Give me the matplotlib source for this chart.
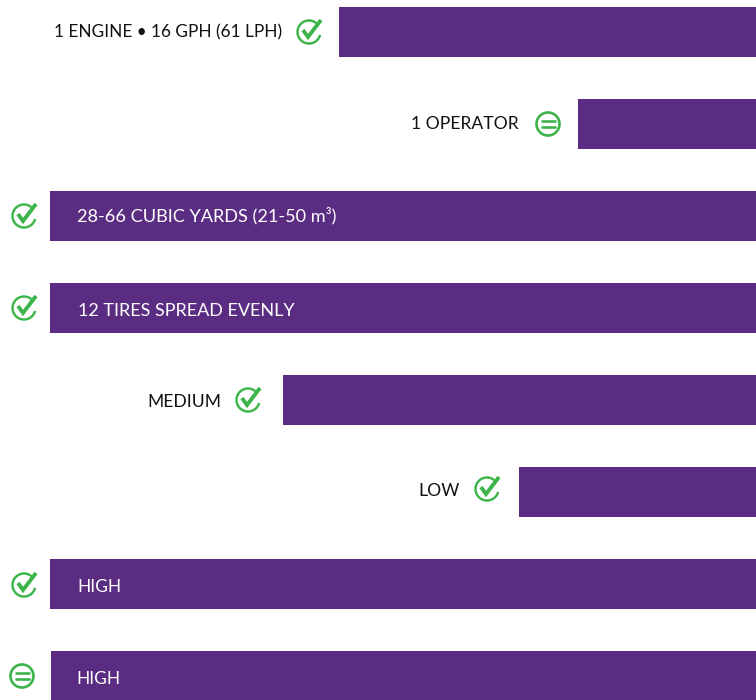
"""Purple comparison bars, right aligned, with a status icon next to each label."""
import matplotlib
matplotlib.use('Agg')
import matplotlib.pyplot as plt
from matplotlib.patches import Arc, Circle
from matplotlib.transforms import Affine2D

labels = ['1 ENGINE • 16 GPH (61 LPH)', '1 OPERATOR', '28-66 CUBIC YARDS (21-50 m³)',
          '12 TIRES SPREAD EVENLY', 'MEDIUM', 'LOW', 'HIGH', 'HIGH']
values = [417, 178, 706, 706, 473, 237, 706, 705]
status = ['check', 'equal', 'check', 'check', 'check', 'check', 'check', 'equal']

PURPLE = '#5b2d82'
GREEN = '#3cb44a'
W, H = 756, 700
ROW = 92
TOP = 32

plt.rcParams['font.family'] = ['Lato', 'DejaVu Sans']


def draw_icon(fig, kind, cx, cy):
    """Draw a status icon, centre given in image pixels (y down)."""
    trans = Affine2D().translate(cx, H - cy)
    lw = 2.4 * 72 / fig.dpi
    if kind == 'check':
        fig.add_artist(Arc((0, 0), 23, 23, theta1=50, theta2=345, color=GREEN, lw=lw, transform=trans))
        fig.add_artist(plt.Line2D([-6, -1, 12], [2, -5, 12], color=GREEN, lw=lw * 1.6,
                                  solid_joinstyle='miter', solid_capstyle='butt', transform=trans))
    else:
        fig.add_artist(Circle((0, 0), 11.5, fill=False, edgecolor=GREEN, lw=lw * 1.1, transform=trans))
        for dy in (-3, 3):
            fig.add_artist(plt.Line2D([-6.5, 6.5], [dy, dy], color=GREEN, lw=lw * 1.1,
                                      solid_capstyle='round', transform=trans))


def main():
    fig = plt.figure(figsize=(W / 100, H / 100), dpi=100)
    ax = fig.add_axes([0, 0, 1, 1])
    rows = list(range(len(values)))
    ax.barh(rows, values, height=50 / ROW, color=PURPLE)
    ax.set_xlim(W, 0)
    ax.set_ylim((H - TOP) / ROW, -TOP / ROW)
    ax.axis('off')

    # offsets are tweaked per row, the artwork isn't quite regular
    text_dy = [0, 0, 0, 3, 2, -1, 3, 3]
    text_dx = [27, 29, 27, 28, 27, 27, 27, 25]
    sizes = [12.4, 12.6, 13.1, 13.0, 12.6, 12.6, 12.5, 12.5]
    icon_dy = [0, 0, 0, 0, 0, -3, 1, 0]
    for i, (label, value, kind) in enumerate(zip(labels, values, status)):
        bar_left = W - value
        y = TOP + i * ROW
        if value > 700:
            x = bar_left + text_dx[i]
            ha, colour = 'left', 'white'
            icon_x = 22 if kind == 'equal' else 24
        else:
            icon_x = bar_left - 30 + {4: -5, 5: -2}.get(i, 0)
            x = icon_x - text_dx[i]
            ha, colour = 'right', '#111111'
        ax.text(W - x, i + text_dy[i] / ROW, label, ha=ha, va='center', color=colour, fontsize=sizes[i])
        draw_icon(fig, kind, icon_x, y + icon_dy[i])

    fig.savefig('out.png', dpi=100)


if __name__ == '__main__':
    main()
